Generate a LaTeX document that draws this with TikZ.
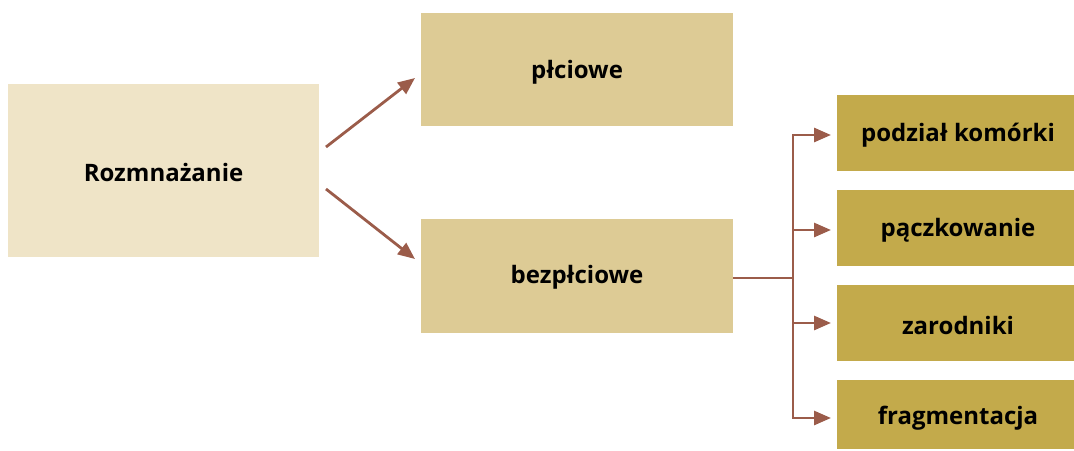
\documentclass[tikz,border=0pt]{standalone}
\usepackage{fontspec}
\setmainfont{Open Sans}
\usetikzlibrary{arrows.meta}
\definecolor{boxA}{HTML}{EFE4C7}
\definecolor{boxB}{HTML}{DDCB95}
\definecolor{boxC}{HTML}{C3AA4B}
\definecolor{arr}{HTML}{9B5C4A}
\tikzset{
  lbl/.style={font=\fontsize{24}{28}\selectfont\bfseries, text=black},
  conn/.style={draw=arr, line width=2.8pt, -{Triangle[length=17pt,width=14pt]}},
  plain/.style={draw=arr, line width=2.8pt},
}
\begin{document}
\begin{tikzpicture}[x=1pt,y=-1pt]
\useasboundingbox (0,0) rectangle (1074,450);
\fill[boxA] (8,84) rectangle (319,257);
\node[lbl] (root) at (163.5,172) {Rozmnażanie};
\fill[boxB] (421,13) rectangle (733,126);
\node[lbl] (pl) at (577,72.5) {płciowe};
\fill[boxB] (421,219) rectangle (733,333);
\node[lbl] (bez) at (577,277.5) {bezpłciowe};
\fill[boxC] (837,95) rectangle (1074,171);
\node[lbl] (c1) at (958,135.5) {podział komórki};
\fill[boxC] (837,190) rectangle (1074,266);
\node[lbl] (c2) at (958,230.5) {pączkowanie};
\fill[boxC] (837,285) rectangle (1074,361);
\node[lbl] (c3) at (958,325.5) {zarodniki};
\fill[boxC] (837,380) rectangle (1074,449);
\node[lbl] (c4) at (958,418) {fragmentacja};
\coordinate (s1) at (326,147);
\coordinate (t1) at (415,78);
\coordinate (s2) at (326,189);
\coordinate (t2) at (415,259);
\draw[conn] (s1) -- (t1);
\draw[conn] (s2) -- (t2);
\coordinate (b0) at (733,278);
\coordinate (bj) at (793,278);
\coordinate (v1) at (793,135);
\coordinate (v2) at (793,230);
\coordinate (v3) at (793,323);
\coordinate (v4) at (793,418);
\coordinate (e1) at (831,135);
\coordinate (e2) at (831,230);
\coordinate (e3) at (831,323);
\coordinate (e4) at (831,418);
\draw[plain] (b0) -- (bj);
\draw[plain, line cap=rect] (v1) -- (v4);
\draw[conn] (v1) -- (e1);
\draw[conn] (v2) -- (e2);
\draw[conn] (v3) -- (e3);
\draw[conn] (v4) -- (e4);
\end{tikzpicture}
\end{document}
